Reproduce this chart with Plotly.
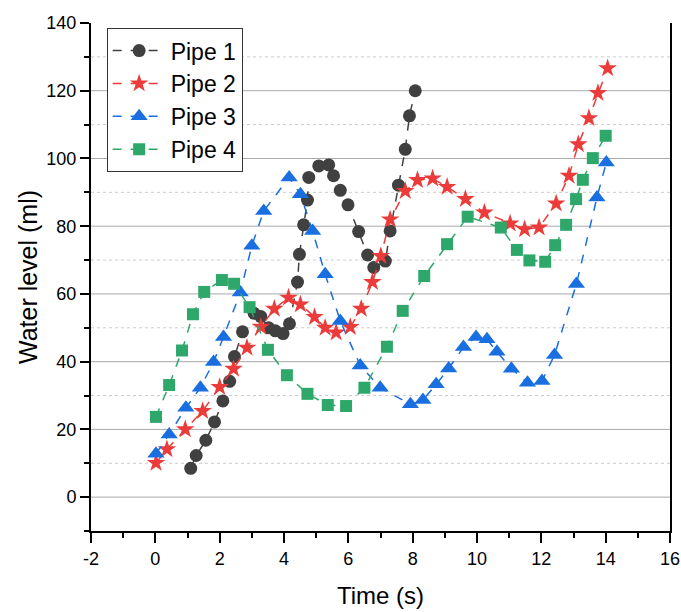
import plotly.graph_objects as go

# ---- data ----
pipe1_x = [1.10, 1.27, 1.57, 1.84, 2.10, 2.31, 2.46, 2.71, 3.07, 3.28, 3.52, 3.73, 3.97, 4.17, 4.42, 4.48, 4.61,
           4.73, 4.77, 5.08, 5.39, 5.54, 5.75, 5.99, 6.32, 6.60, 6.79, 7.15, 7.30, 7.56, 7.77, 7.90, 8.08]
pipe1_y = [8.5, 12.3, 16.8, 22.2, 28.4, 34.2, 41.5, 48.8, 54.3, 53.3, 50.0, 49.1, 48.3, 51.2, 63.5, 71.7, 80.4,
           87.7, 94.4, 97.8, 98.1, 94.9, 90.6, 86.3, 78.4, 71.5, 67.8, 69.7, 78.6, 92.1, 102.7, 112.6, 120.0]

pipe2_x = [0.02, 0.36, 0.93, 1.47, 2.00, 2.43, 2.85, 3.28, 3.70, 4.14, 4.51, 4.95, 5.28, 5.62, 6.06, 6.40, 6.75,
           7.01, 7.30, 7.77, 8.15, 8.62, 9.07, 9.64, 10.23, 11.03, 11.48, 11.93, 12.46, 12.86, 13.15, 13.48,
           13.76, 14.06]
pipe2_y = [10.1, 14.1, 20.0, 25.4, 32.5, 37.9, 44.1, 50.3, 55.6, 58.9, 56.9, 53.2, 50.0, 48.6, 50.2, 55.6, 63.5,
           71.2, 82.0, 90.4, 93.6, 94.1, 91.6, 88.0, 84.0, 80.8, 79.1, 79.6, 86.7, 94.9, 104.2, 111.9, 119.3, 126.6]

pipe3_x = [0.02, 0.43, 0.95, 1.40, 1.81, 2.12, 2.64, 3.00, 3.37, 4.16, 4.51, 4.89, 5.28, 5.75, 6.37, 6.99, 7.93,
           8.32, 8.73, 9.12, 9.58, 9.97, 10.31, 10.62, 11.07, 11.57, 12.02, 12.41, 13.09, 13.73, 14.02]
pipe3_y = [12.8, 18.5, 26.4, 32.3, 39.9, 47.3, 60.4, 74.2, 84.5, 94.4, 89.4, 78.6, 65.8, 52.0, 38.9, 32.3, 27.4,
           28.7, 33.3, 38.0, 44.3, 47.3, 46.6, 42.9, 37.9, 33.8, 34.3, 42.0, 62.9, 88.5, 98.8]

pipe4_x = [0.02, 0.43, 0.83, 1.17, 1.52, 2.07, 2.45, 2.93, 3.50, 4.09, 4.73, 5.36, 5.93, 6.50, 7.20, 7.69, 8.36,
           9.07, 9.71, 10.74, 11.24, 11.63, 12.12, 12.43, 12.77, 13.08, 13.29, 13.60, 14.00]
pipe4_y = [23.7, 33.1, 43.3, 54.0, 60.6, 64.1, 63.0, 56.1, 43.5, 36.0, 30.5, 27.2, 26.9, 32.3, 44.4, 55.0, 65.3,
           74.7, 82.8, 79.6, 73.0, 69.9, 69.5, 74.4, 80.4, 88.0, 93.7, 100.1, 106.7]

series_names = ["Pipe 1", "Pipe 2", "Pipe 3", "Pipe 4"]
x_ticks = [-2, 0, 2, 4, 6, 8, 10, 12, 14, 16]
y_ticks = [0, 20, 40, 60, 80, 100, 120, 140]
major_grid_y = [0, 20, 40, 60, 80, 100, 120]
minor_grid_y = [10, 30, 50, 70, 90, 110, 130]

# ---- styles ----
colors = ["#404040", "#ec3b3b", "#1a6fe0", "#2ea86a"]
symbols = ["circle", "star", "triangle-up", "square"]
sizes = [13, 14, 15, 12]

fig = go.Figure()
for name, xs, ys, c, s, sz in zip(series_names,
                                  [pipe1_x, pipe2_x, pipe3_x, pipe4_x],
                                  [pipe1_y, pipe2_y, pipe3_y, pipe4_y],
                                  colors, symbols, sizes):
    fig.add_trace(go.Scatter(
        x=xs, y=ys, name=name, mode="lines+markers",
        line=dict(color=c, width=1.5, dash="dash"),
        marker=dict(symbol=s, size=sz, color=c, line=dict(width=0)),
    ))

shapes = []
for v in major_grid_y:
    shapes.append(dict(type="line", xref="paper", yref="y", x0=0, x1=1, y0=v, y1=v,
                       line=dict(color="#a8a8a8", width=1), layer="below"))
for v in minor_grid_y:
    shapes.append(dict(type="line", xref="paper", yref="y", x0=0, x1=1, y0=v, y1=v,
                       line=dict(color="#cccccc", width=1, dash="dot"), layer="below"))

font_main = "Liberation Sans, Arial, sans-serif"

fig.update_layout(
    width=681, height=612,
    margin=dict(l=91, r=11, t=23, b=81, autoexpand=False),
    paper_bgcolor="white", plot_bgcolor="white",
    font=dict(family=font_main, color="black"),
    shapes=shapes,
    showlegend=True,
    legend=dict(
        x=0.027, y=0.99, xanchor="left", yanchor="top",
        bgcolor="white", bordercolor="#333333", borderwidth=1,
        font=dict(size=23, family=font_main, color="black"),
        itemwidth=53, tracegroupgap=0,
    ),
    xaxis=dict(
        range=[-2, 16], tickvals=x_ticks, ticktext=[str(v) for v in x_ticks],
        showgrid=False, zeroline=False, automargin=False,
        showline=True, linecolor="black", linewidth=2,
        ticks="outside", ticklen=10, tickwidth=1.5, tickcolor="black",
        minor=dict(dtick=1, tick0=0, ticks="outside", ticklen=5, tickwidth=1.5, tickcolor="black", showgrid=False),
        tickfont=dict(size=18, family=font_main),
        title=dict(text="Time (s)", font=dict(size=24, family=font_main), standoff=20),
        mirror=False,
    ),
    yaxis=dict(
        range=[-10, 140], tickvals=y_ticks, ticktext=[str(v) for v in y_ticks],
        showgrid=False, zeroline=False, automargin=False,
        showline=True, linecolor="black", linewidth=2, mirror=True,
        ticks="outside", ticklen=9, tickwidth=1.5, tickcolor="black",
        minor=dict(dtick=10, tick0=0, ticks="outside", ticklen=5, tickwidth=1.5, tickcolor="black", showgrid=False),
        tickfont=dict(size=18, family=font_main),
        title=dict(text="Water level (ml)", font=dict(size=25, family=font_main), standoff=2),
    ),
)

# remove the default 8px page margin so the figure sits at the window's top-left corner
fig.write_html("out.html", config={"displayModeBar": False},
               post_script="document.body.style.margin='0';")
